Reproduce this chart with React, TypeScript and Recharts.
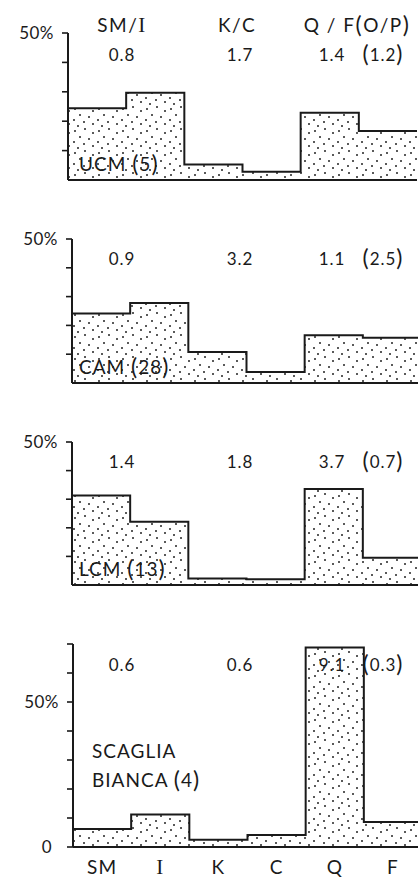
import React from "react";
import { AreaChart, Area, XAxis, YAxis } from "recharts";

// mineral classes along the x axis
const categories = ["SM", "I", "K", "C", "Q", "F"];

// percentage of each class
const ucmValues = [24.4, 29.7, 5.3, 2.8, 22.9, 16.7];
const camValues = [24.1, 27.8, 10.8, 3.8, 16.6, 15.7];
const lcmValues = [31.3, 22.1, 2.3, 2.0, 33.6, 9.5];
const scagliaValues = [6.2, 11.2, 2.5, 4.1, 68.8, 8.6];

const ticks50 = [0, 10, 20, 30, 40, 50];
const ticks70 = [0, 10, 20, 30, 40, 50, 60, 70];

// ratios printed above each panel
const ratioSmI = ["0.8", "0.9", "1.4", "0.6"];
const ratioKC = ["1.7", "3.2", "1.8", "0.6"];
const ratioQF = ["1.4", "1.1", "3.7", "9.1"];
const ratioOP = ["(1.2)", "(2.5)", "(0.7)", "(0.3)"];

const unitNames = ["UCM", "CAM", "LCM", "SCAGLIA BIANCA"];
const sampleCounts = [5, 28, 13, 4];

const FONT = "Lato, 'Open Sans', sans-serif";
const INK = "#1a1a1a";

const toSteps = (values: number[]) =>
  values
    .map((v, i) => ({ x: i, v }))
    .concat({ x: values.length, v: values[values.length - 1] });

const Stipple = ({ id }: { id: string }) => (
  <defs>
    <pattern id={id} width="24" height="22" patternUnits="userSpaceOnUse">
      <rect width="24" height="22" fill="#fff" />
      {[
        [3, 4], [13, 2], [21, 6], [8, 10], [17, 12], [2, 15],
        [12, 17], [21, 19], [6, 21],
      ].map(([cx, cy], i) => (
        <circle key={i} cx={cx} cy={cy} r={1} fill="#222" />
      ))}
    </pattern>
  </defs>
);

interface PanelProps {
  id: string;
  values: number[];
  left: number;
  top: number;
  zero: number;
  max: number;
  ticks: number[];
  showCategories?: boolean;
}

const Panel = ({ id, values, left, top, zero, max, ticks, showCategories }: PanelProps) => {
  const mt = 16;
  const xh = showCategories ? 34 : 2;
  const plotW = 349;
  const width = left + plotW;
  const height = zero - top + mt + xh;

  const yTick = (props: any) => {
    const { y, payload } = props;
    if (payload.value !== 0 && payload.value !== 50) return <g />;
    const label = payload.value === 0 ? "0" : "50%";
    const dx = payload.value === 0 ? 21 : 14;
    return (
      <text
        x={left - dx}
        y={y}
        dy={6}
        textAnchor="end"
        fontFamily={FONT}
        fontSize={17}
        letterSpacing={0.5}
        fill={INK}
      >
        {label}
      </text>
    );
  };

  const xTick = (props: any) => {
    const { x, y, payload } = props;
    const name = categories[Math.floor(payload.value)];
    return (
      <text
        x={x}
        y={y + 19}
        textAnchor="middle"
        fontFamily={name === "I" ? "'Liberation Serif', serif" : FONT}
        fontSize={name === "I" ? 21 : 19}
        letterSpacing={1}
        fill={INK}
      >
        {name}
      </text>
    );
  };

  return (
    <div style={{ position: "absolute", left: 0, top: top - mt }}>
      <AreaChart
        width={width}
        height={height}
        data={toSteps(values)}
        margin={{ top: mt, right: 0, bottom: 0, left: 0 }}
      >
        <Stipple id={id} />
        <XAxis
          type="number"
          dataKey="x"
          domain={[0, categories.length]}
          ticks={showCategories ? categories.map((_, i) => i + 0.5) : []}
          tick={showCategories ? xTick : false}
          tickLine={false}
          height={xh}
          axisLine={{ stroke: INK, strokeWidth: 2 }}
        />
        <YAxis
          type="number"
          domain={[0, max]}
          ticks={ticks}
          width={left}
          tickSize={6}
          tick={yTick}
          tickLine={{ stroke: INK, strokeWidth: 1.6 }}
          axisLine={{ stroke: INK, strokeWidth: 2 }}
        />
        <Area
          type="stepAfter"
          dataKey="v"
          stroke={INK}
          strokeWidth={2}
          fill={`url(#${id})`}
          fillOpacity={1}
          dot={false}
          activeDot={false}
          isAnimationActive={false}
        />
      </AreaChart>
    </div>
  );
};

const T = ({ x, y, anchor = "middle", size = 17, spacing = 1, children }: any) => (
  <text
    x={x}
    y={y}
    textAnchor={anchor}
    fontFamily={FONT}
    fontSize={size}
    fill={INK}
    letterSpacing={spacing}
  >
    {children}
  </text>
);

const Paren = ({ children }: any) => (
  <tspan fontSize={23} dy={1}>{children}</tspan>
);

const App = () => {
  const ratioRows = [61, 265, 468, 671];
  const nameBase = [171, 374, 576];

  return (
    <div
      style={{
        position: "absolute",
        left: 0,
        top: 0,
        width: 418,
        height: 878,
        overflow: "hidden",
        background: "#fff",
      }}
    >
      <Panel id="st1" values={ucmValues} left={68} top={33} zero={180} max={50} ticks={ticks50} />
      <Panel id="st2" values={camValues} left={72} top={239} zero={383} max={50} ticks={ticks50} />
      <Panel id="st3" values={lcmValues} left={72} top={442} zero={585} max={50} ticks={ticks50} />
      <Panel id="st4" values={scagliaValues} left={73} top={644} zero={847} max={70} ticks={ticks70} showCategories />

      <svg
        width={418}
        height={878}
        style={{ position: "absolute", left: 0, top: 0, pointerEvents: "none" }}
      >
        {/* column headings */}
        <T x={122} y={32} size={19} spacing={1.5}>
          SM/<tspan fontFamily="'Liberation Serif', serif" fontSize={21}>I</tspan>
        </T>
        <T x={237} y={32} size={19} spacing={1.5}>K/C</T>
        <T x={357} y={32} size={19} spacing={1.5}>
          Q / F<Paren>(</Paren><tspan dy={-1}>O/P</tspan><Paren>)</Paren>
        </T>

        {ratioRows.map((y, i) => (
          <g key={i}>
            <T x={122} y={y}>{ratioSmI[i]}</T>
            <T x={240} y={y}>{ratioKC[i]}</T>
            <T x={332} y={y}>{ratioQF[i]}</T>
            <T x={383} y={y}>
              <Paren>(</Paren>
              <tspan dy={-1}>{ratioOP[i].slice(1, -1)}</tspan>
              <Paren>)</Paren>
            </T>
          </g>
        ))}

        {nameBase.map((y, i) => (
          <T key={i} x={79} y={y} anchor="start" size={19} spacing={1}>
            {unitNames[i]} <Paren>(</Paren>
            <tspan dy={-1}>{sampleCounts[i]}</tspan>
            <Paren>)</Paren>
          </T>
        ))}
        <T x={92} y={758} anchor="start" size={19} spacing={1}>
          {unitNames[3].split(" ")[0]}
        </T>
        <T x={92} y={787} anchor="start" size={19} spacing={1}>
          {unitNames[3].split(" ")[1]} <Paren>(</Paren>
          <tspan dy={-1}>{sampleCounts[3]}</tspan>
          <Paren>)</Paren>
        </T>
      </svg>
    </div>
  );
};

export default App;
